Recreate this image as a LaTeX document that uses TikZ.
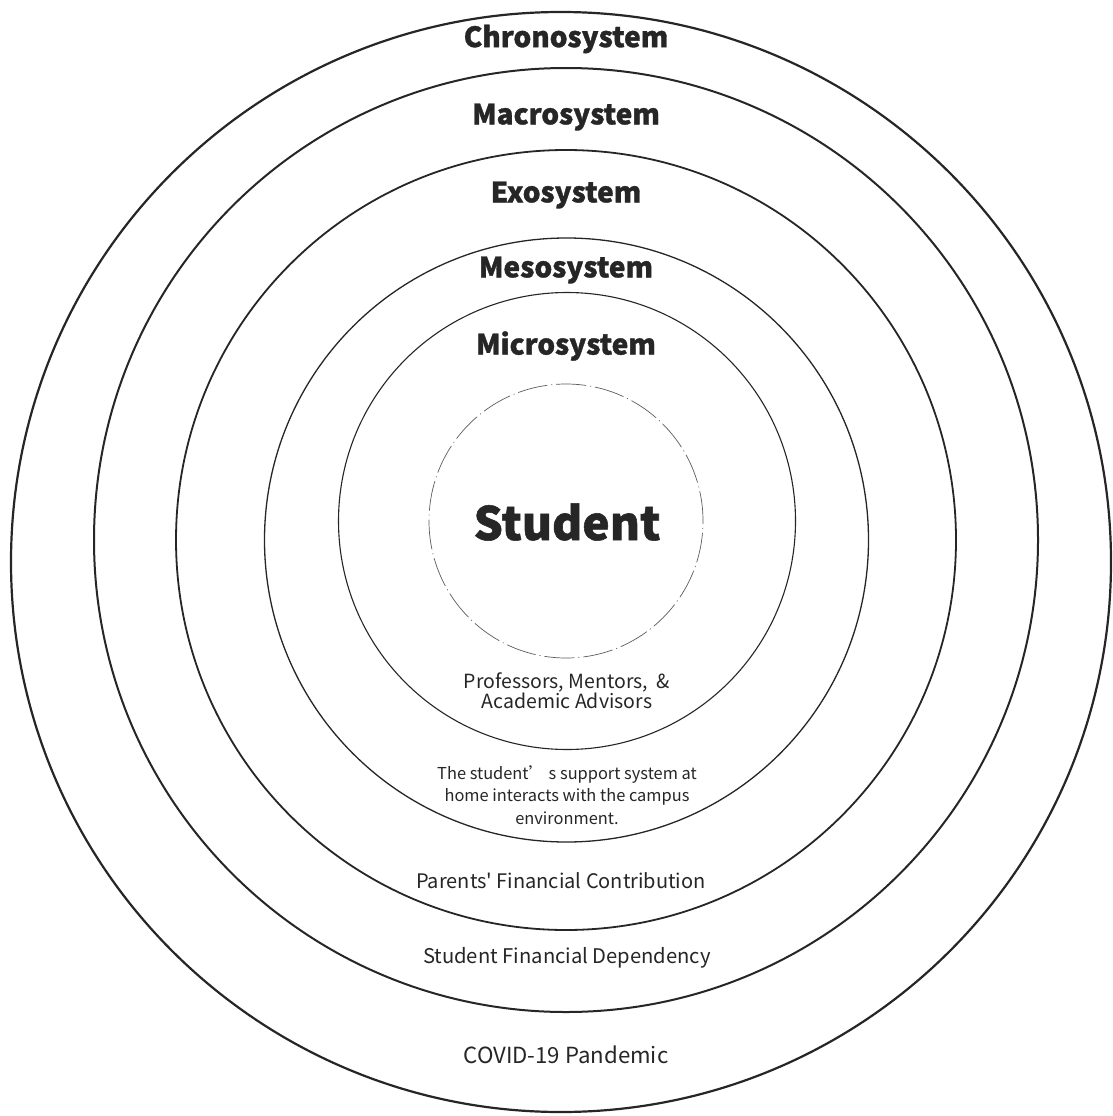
\documentclass[tikz,border=0pt]{standalone}
\usepackage{fontspec}
\setmainfont{Noto Sans CJK SC}[Ligatures=TeXOff]
\newfontfamily\heavyfont{Noto Sans CJK SC}[Ligatures=TeXOff, BoldFeatures={FakeBold=1.2}]
\begin{document}
\begin{tikzpicture}[x=1pt,y=-1pt]
\definecolor{ink}{HTML}{262626}
\tikzset{
  ring/.style={draw=ink, line width=#1},
  ring/.default=2pt,
  sysname/.style={text=ink, font=\heavyfont\bfseries\fontsize{28}{32}\selectfont, inner sep=0pt},
  note/.style={text=ink, font=\fontsize{#1}{20}\selectfont, align=center, inner sep=0pt},
  note/.default=20,
  smallnote/.style={text=ink, font=\fontsize{16.4}{22.5}\selectfont, align=center, inner sep=0pt},
}
\useasboundingbox[fill=white] (0,0) rectangle (1112,1116);

% centres of the nested rings
\coordinate (cChrono) at (561,562);
\coordinate (cMacro)  at (566,540);
\coordinate (cExo)    at (566,540);
\coordinate (cMeso)   at (566.5,540);
\coordinate (cMicro)  at (567,521);
\coordinate (cSelf)   at (566,521);

\draw[ring=2.2pt] (cChrono) circle[radius=550pt];
\draw[ring=2pt]   (cMacro)  circle[radius=472pt];
\draw[ring=1.8pt] (cExo)    circle[radius=390pt];
\draw[ring=1.3pt] (cMeso)   circle[radius=302pt];
\draw[ring=1.1pt] (cMicro)  circle[radius=228.5pt];
\draw[draw=ink!75, line width=0.7pt, dash pattern=on 30pt off 4pt on 1pt off 4pt]
      (cSelf) circle[radius=137pt];

% ring titles
\node[sysname] (chrono) at (566,39)  {Chronosystem};
\node[sysname] (macro)  at (566,117) {Macrosystem};
\node[sysname] (exo)    at (566,195) {Exosystem};
\node[sysname] (meso)   at (566,270) {Mesosystem};
\node[sysname] (micro)  at (566,346) {Microsystem};

% centre
\node[text=ink, font=\heavyfont\bfseries\fontsize{46}{52}\selectfont, inner sep=0pt] (student) at (567,522) {Student};

% ring contents
\node[note=19.5] (profs) at (567,691) {Professors, Mentors,~ \&\\Academic Advisors};
\node[smallnote] (home) at (567,795) {The student’ s support system at\\home interacts with the campus\\environment.};
\node[note=20] (parents) at (561,881) {Parents' Financial Contribution};
\node[note=20.2] (depend)  at (567,958) {Student Financial Dependency};
\node[note=22.2] (covid)   at (566,1055) {COVID-19 Pandemic};
\end{tikzpicture}
\end{document}
